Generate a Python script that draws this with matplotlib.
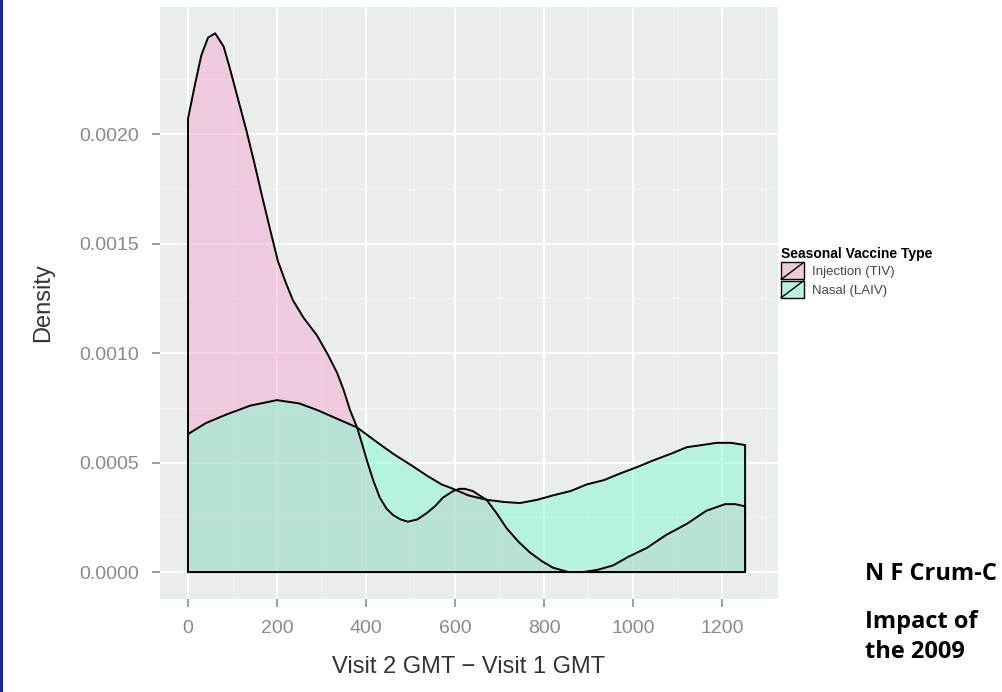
import numpy as np
import matplotlib
matplotlib.use("Agg")
import matplotlib.pyplot as plt
from matplotlib.patches import Rectangle
from matplotlib.legend_handler import HandlerPatch
from matplotlib.lines import Line2D

plt.rcParams['font.family'] = ['Liberation Sans', 'DejaVu Sans']

# density curves (x = GMT difference, y = density)
tiv_x = [0, 15, 30, 45, 61, 80, 94, 115, 132, 150, 166, 185, 202, 220, 236, 260,
         290, 315, 335, 350, 364, 380, 392, 402, 416, 431, 446, 461, 478, 494, 515,
         537, 555, 573, 596, 610, 622, 640, 655, 671, 693, 716, 742, 768, 795, 820,
         855, 888, 920, 955, 990, 1031, 1075, 1121, 1165, 1207, 1230, 1252]
tiv_y = [0.00207, 0.00222, 0.00236, 0.00244, 0.00246, 0.00240, 0.00230, 0.00214,
         0.00201, 0.00186, 0.00172, 0.00156, 0.00142, 0.00132, 0.00124, 0.00116,
         0.00108, 0.00099, 0.00091, 0.00083, 0.00074, 0.00066, 0.00058, 0.00051,
         0.00042, 0.00034, 0.00029, 0.00026, 0.00024, 0.00023, 0.00024, 0.00027,
         0.00030, 0.00034, 0.00037, 0.00038, 0.00038, 0.00037, 0.00035, 0.00033,
         0.00027, 0.00020, 0.00014, 0.00009, 0.00005, 0.00002, 0.00000, 0.00000,
         0.00001, 0.00003, 0.00007, 0.00011, 0.00017, 0.00022, 0.00028, 0.00031,
         0.00031, 0.00030]

laiv_x = [0, 40, 87, 140, 200, 250, 290, 335, 380, 420, 461, 500, 537, 570, 596,
          630, 671, 710, 746, 785, 820, 860, 896, 935, 971, 1010, 1046, 1085, 1121,
          1155, 1188, 1220, 1252]
laiv_y = [0.00063, 0.00068, 0.00072, 0.00076, 0.000785, 0.00077, 0.00074, 0.00070,
          0.00066, 0.00060, 0.00054, 0.00049, 0.00044, 0.00040, 0.00038, 0.00035,
          0.00033, 0.00032, 0.000315, 0.00033, 0.00035, 0.00037, 0.00040, 0.00042,
          0.00045, 0.00048, 0.00051, 0.00054, 0.00057, 0.00058, 0.00059, 0.00059,
          0.00058]

labels = ["Injection (TIV)", "Nasal (LAIV)"]
x_ticks = [0, 200, 400, 600, 800, 1000, 1200]
y_ticks = [0.0, 0.0005, 0.0010, 0.0015, 0.0020]

pink = "#f6a8d2"
green = "#84fad0"


class SlashHandler(HandlerPatch):
    # ggplot style key: filled box with a diagonal line
    def create_artists(self, legend, orig_handle, xdescent, ydescent,
                       width, height, fontsize, trans):
        r = Rectangle((-xdescent, -ydescent), width, height,
                      facecolor=orig_handle.get_facecolor(),
                      edgecolor="black", lw=1.0, transform=trans)
        l = Line2D([-xdescent, -xdescent + width], [-ydescent, -ydescent + height],
                   color="black", lw=1.0, transform=trans)
        return [r, l]


fig = plt.figure(figsize=(10.03, 6.92), dpi=100)
ax = fig.add_axes([0.1595, 0.1344, 0.6162, 0.8555])
ax.set_facecolor("#e9edeb")

for xs, ys, c in [(tiv_x, tiv_y, pink), (laiv_x, laiv_y, green)]:
    px = [xs[0]] + list(xs) + [xs[-1]]
    py = [0] + list(ys) + [0]
    ax.fill(px, py, facecolor=c, alpha=0.5, edgecolor="none", zorder=2)
    ax.plot(px + [px[0]], py + [py[0]], color="black", lw=1.4, zorder=3)

ax.set_xlim(-63, 1326)
ax.set_ylim(-0.000123, 0.00258)
ax.set_xticks(x_ticks)
ax.set_yticks(y_ticks)
ax.set_yticklabels([f"{v:.4f}" for v in y_ticks])
ax.set_xticks([100, 300, 500, 700, 900, 1100, 1300], minor=True)
ax.set_yticks([0.00025, 0.00075, 0.00125, 0.00175, 0.00225], minor=True)
ax.grid(which="major", color="white", lw=1.4, zorder=1)
ax.grid(which="minor", color="#f5f7f6", lw=0.7, zorder=1)
ax.set_axisbelow(True)
for s in ax.spines.values():
    s.set_visible(False)
ax.tick_params(which="major", colors="#8a8a8a", labelsize=14, length=6, width=1.2)
ax.tick_params(axis="x", which="major", pad=9)
ax.tick_params(axis="y", which="major", pad=9)
ax.tick_params(which="minor", length=0)
ax.set_xlabel("Visit 2 GMT \u2212 Visit 1 GMT", fontsize=17, color="#333333", labelpad=14)
ax.set_ylabel("Density", fontsize=17, color="#333333", labelpad=18)

handles = [Rectangle((0, 0), 1, 1, facecolor="#efcadc"),
           Rectangle((0, 0), 1, 1, facecolor="#b6f3dd")]
fig.legend(handles, labels, title="Seasonal Vaccine Type",
           loc="upper left", bbox_to_anchor=(0.767, 0.66),
           handler_map={Rectangle: SlashHandler()}, frameon=False,
           fontsize=9.5, title_fontsize=10, handlelength=1.7, handleheight=1.6,
           handletextpad=0.6, labelspacing=0.1, alignment="left")
leg = fig.legends[0]
leg.get_title().set_fontweight("bold")
for t in leg.get_texts():
    t.set_color("#444444")

# blue frame on the left edge
fig.patches.append(Rectangle((0, 0), 0.003, 1, transform=fig.transFigure,
                             facecolor="#1626a0", edgecolor="none"))

bold = dict(fontsize=17, fontweight="bold", family=["Open Sans", "DejaVu Sans"],
            color="black", va="baseline", ha="left")
fig.text(0.862, 1 - 580 / 692, "N F Crum-C", **bold)
fig.text(0.862, 1 - 628 / 692, "Impact of", **bold)
fig.text(0.862, 1 - 658 / 692, "the 2009", **bold)

fig.savefig("out.png", dpi=100)
